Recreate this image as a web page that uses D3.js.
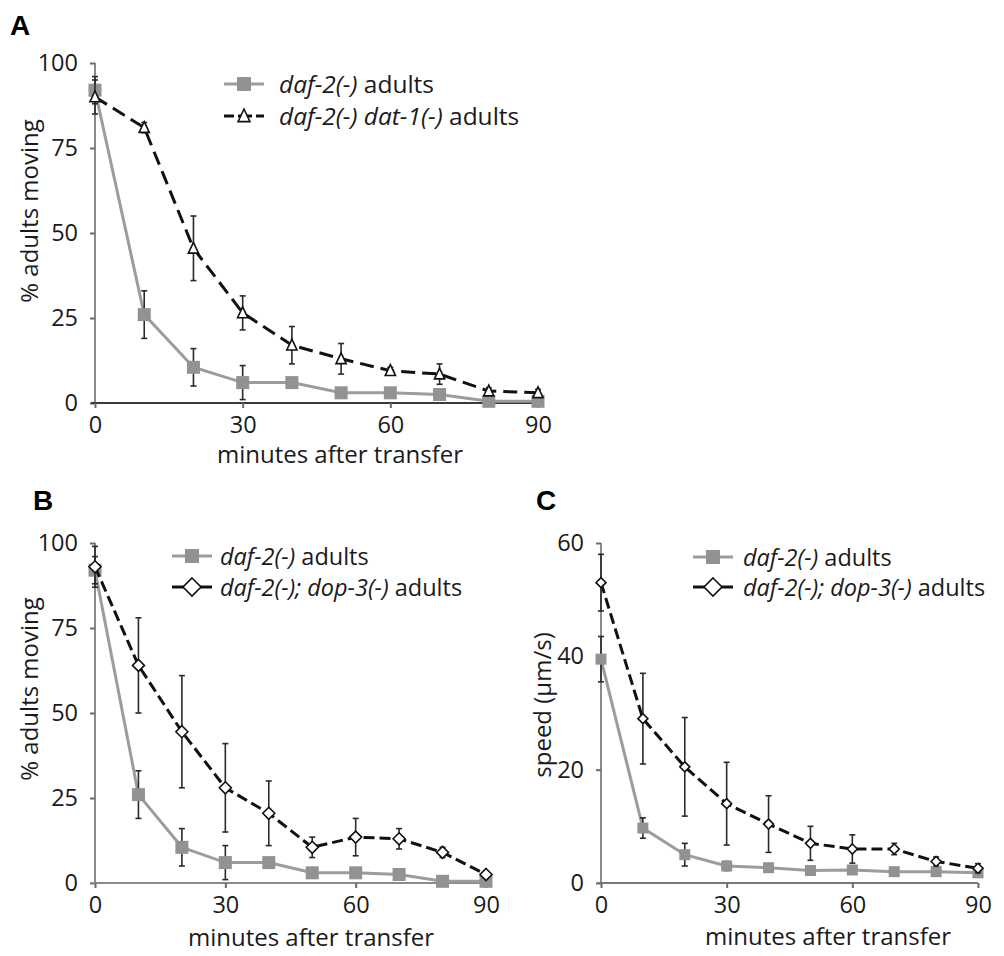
<!DOCTYPE html>
<html>
<head>
<meta charset="utf-8">
<script src="https://cdn.jsdelivr.net/npm/d3@7"></script>
<style>
  html, body { margin: 0; padding: 0; background: #fff; }
  svg { display: block; font-family: "Open Sans", "DejaVu Sans", sans-serif; }
</style>
</head>
<body>
<svg id="fig" width="1004" height="956"></svg>
<script>
// Time points (minutes after transfer)
const minutes = [0, 10, 20, 30, 40, 50, 60, 70, 80, 90];

// Panel A: % adults moving
const aDaf2    = [92, 26, 10.5, 6, 6, 3, 3, 2.5, 0.5, 0.5];
const aDaf2Err = [4, 7, 5.5, 5, 1, 1, 1, 1, 0.5, 0.5];
const aDat1    = [90, 81, 45.5, 26.5, 17, 13, 9.5, 8.5, 3.5, 3];
const aDat1Err = [5, 1.5, 9.5, 5, 5.5, 4.5, 1, 3, 1, 1];

// Panel B: % adults moving
const bDaf2    = [92, 26, 10.5, 6, 6, 3, 3, 2.5, 0.5, 0.5];
const bDaf2Err = [4, 7, 5.5, 5, 1, 1, 1, 1, 0.5, 0.5];
const bDop3    = [93, 64, 44.5, 28, 20.5, 10.5, 13.5, 13, 9, 2.5];
const bDop3Err = [6, 14, 16.5, 13, 9.5, 3, 5.5, 3, 1.5, 1];

// Panel C: speed (µm/s)
const cDaf2    = [39.5, 9.7, 5, 3, 2.7, 2.2, 2.3, 2, 2, 1.8];
const cDaf2Err = [4, 1.8, 2, 0.8, 0.5, 0.5, 0.5, 0.5, 0.5, 0.5];
const cDop3    = [53, 29, 20.5, 14, 10.4, 7, 6, 6, 3.8, 2.6];
const cDop3Err = [5, 8, 8.7, 7.3, 5, 3, 2.5, 1, 0.8, 0.8];

// Tick labels
const xTicks = [0, 30, 60, 90];
const pctTicks = [0, 25, 50, 75, 100];
const speedTicks = [0, 20, 40, 60];

const GRAY = "#9c9c9c";
const BLACK = "#111111";
const TICK_FS = 23.5;
const TITLE_FS = 24;

const svg = d3.select("#fig");

function drawPanel(cfg) {
  const g = svg.append("g");
  const x = d3.scaleLinear().domain([0, 90]).range([cfg.x0, cfg.x1]);
  const y = d3.scaleLinear().domain([0, cfg.yMax]).range([cfg.y0, cfg.y1]);

  // axes
  const yAxis = d3.axisLeft(y).tickValues(cfg.yTicks).tickSize(5).tickPadding(12);
  const xAxis = d3.axisBottom(x).tickValues(xTicks).tickSize(5).tickPadding(8);
  const ya = g.append("g").attr("transform", `translate(${cfg.x0},0)`).call(yAxis);
  const xa = g.append("g").attr("transform", `translate(0,${cfg.y0})`).call(xAxis);
  [ya, xa].forEach(a => {
    a.selectAll("path, line").attr("stroke", "#6a6a6a").attr("stroke-width", 2);
    a.selectAll("text").attr("font-size", TICK_FS).attr("fill", "#1a1a1a")
      .attr("font-family", "Open Sans, sans-serif");
  });
  ya.select(".domain").attr("d", `M0,${cfg.y0}V${cfg.y1}`).attr("stroke", "#8a8a8a");
  xa.select(".domain").attr("d", `M${cfg.x0 - 4},0H${cfg.x1}`).attr("stroke", cfg.xAxisColor);

  // axis titles
  g.append("text").attr("x", cfg.xLabelX).attr("y", cfg.xLabelY)
    .attr("text-anchor", "middle").attr("font-size", TITLE_FS).attr("fill", "#1a1a1a")
    .text("minutes after transfer");
  g.append("text")
    .attr("transform", `translate(${cfg.yLabelX},${cfg.yLabelY}) rotate(-90)`)
    .attr("text-anchor", "middle").attr("font-size", TITLE_FS).attr("fill", "#1a1a1a")
    .text(cfg.yTitle);

  // series
  cfg.series.forEach(s => {
    const pts = minutes.map((m, i) => ({ m, v: s.values[i], e: s.err[i] }));
    const line = d3.line().x(d => x(d.m)).y(d => y(d.v));
    g.append("path").datum(pts).attr("d", line).attr("fill", "none")
      .attr("stroke", s.color).attr("stroke-width", s.width)
      .attr("stroke-dasharray", s.dash || null);
    // error bars
    const eb = g.append("g").attr("stroke", "#2a2a2a").attr("stroke-width", 1.6);
    pts.forEach(d => {
      eb.append("line").attr("x1", x(d.m)).attr("x2", x(d.m))
        .attr("y1", y(d.v - d.e)).attr("y2", y(d.v + d.e));
      [d.v - d.e, d.v + d.e].forEach(v => {
        eb.append("line").attr("x1", x(d.m) - 3).attr("x2", x(d.m) + 3)
          .attr("y1", y(v)).attr("y2", y(v));
      });
    });
    // markers
    const mk = g.append("g");
    pts.forEach(d => drawMarker(mk, s.marker, x(d.m), y(d.v), s.size, s.color));
  });

  // legend
  cfg.series.forEach((s, i) => {
    const ly = cfg.legY + i * cfg.legDy;
    const lg = g.append("g");
    lg.append("line").attr("x1", cfg.legX).attr("x2", cfg.legX + 40)
      .attr("y1", ly).attr("y2", ly).attr("stroke", s.color).attr("stroke-width", 3)
      .attr("stroke-dasharray", s.legendDash || null);
    drawMarker(lg, s.marker, cfg.legX + 20, ly, s.legendSize || 14, s.color);
    const t = lg.append("text").attr("x", cfg.legTextX).attr("y", ly + 8.5)
      .attr("font-size", cfg.legFs).attr("fill", "#1a1a1a");
    t.append("tspan").attr("font-style", "italic").text(s.geno);
    t.append("tspan").text(" adults");
  });

  // panel letter
  svg.append("text").attr("x", cfg.letterX).attr("y", cfg.letterY)
    .attr("font-family", "Liberation Sans, Arial, sans-serif")
    .attr("font-weight", "bold").attr("font-size", 28).attr("fill", "#000")
    .text(cfg.letter);
}

function drawMarker(parent, type, cx, cy, size, color) {
  const h = size / 2;
  if (type === "square") {
    parent.append("rect").attr("x", cx - h).attr("y", cy - h)
      .attr("width", size).attr("height", size).attr("fill", "#929292");
  } else if (type === "triangle") {
    parent.append("path")
      .attr("d", `M${cx},${cy - h}L${cx + h * 0.85},${cy + h * 0.8}L${cx - h * 0.85},${cy + h * 0.8}Z`)
      .attr("fill", "#fff").attr("stroke", color).attr("stroke-width", 1.6);
  } else if (type === "diamond") {
    parent.append("path")
      .attr("d", `M${cx},${cy - h}L${cx + h},${cy}L${cx},${cy + h}L${cx - h},${cy}Z`)
      .attr("fill", "#fff").attr("stroke", color).attr("stroke-width", 1.6);
  }
}

drawPanel({
  letter: "A", letterX: 10, letterY: 35,
  x0: 95, x1: 538, y0: 403, y1: 63, yMax: 100, yTicks: pctTicks,
  xAxisColor: "#3a3a3a",
  yTitle: "% adults moving", yLabelX: 38, yLabelY: 211,
  xLabelX: 340, xLabelY: 463,
  legX: 224, legTextX: 279, legY: 84, legDy: 32, legFs: 24.5,
  series: [
    { geno: "daf-2(-)", values: aDaf2, err: aDaf2Err, color: GRAY, width: 3, marker: "square", size: 13 },
    { geno: "daf-2(-) dat-1(-)", values: aDat1, err: aDat1Err, color: BLACK, width: 3,
      dash: "14,7", marker: "triangle", size: 12, legendDash: "10,4,14,4,8", legendSize: 14 }
  ]
});

drawPanel({
  letter: "B", letterX: 33, letterY: 510,
  x0: 95, x1: 486, y0: 883, y1: 543, yMax: 100, yTicks: pctTicks,
  xAxisColor: "#8a8a8a",
  yTitle: "% adults moving", yLabelX: 38, yLabelY: 689,
  xLabelX: 311, xLabelY: 946,
  legX: 172, legTextX: 220, legY: 556, legDy: 31, legFs: 23.5,
  series: [
    { geno: "daf-2(-)", values: bDaf2, err: bDaf2Err, color: GRAY, width: 3, marker: "square", size: 13 },
    { geno: "daf-2(-); dop-3(-)", values: bDop3, err: bDop3Err, color: BLACK, width: 3,
      dash: "11,5", marker: "diamond", size: 12, legendSize: 18 }
  ]
});

drawPanel({
  letter: "C", letterX: 536, letterY: 510,
  x0: 601, x1: 978, y0: 883, y1: 543, yMax: 60, yTicks: speedTicks,
  xAxisColor: "#7a7a7a",
  yTitle: "speed (µm/s)", yLabelX: 551, yLabelY: 705,
  xLabelX: 828, xLabelY: 945,
  legX: 693, legTextX: 743, legY: 557, legDy: 30, legFs: 23.5,
  series: [
    { geno: "daf-2(-)", values: cDaf2, err: cDaf2Err, color: GRAY, width: 3, marker: "square", size: 11 },
    { geno: "daf-2(-); dop-3(-)", values: cDop3, err: cDop3Err, color: BLACK, width: 3,
      dash: "11,5", marker: "diamond", size: 10, legendSize: 18 }
  ]
});
</script>
</body>
</html>
